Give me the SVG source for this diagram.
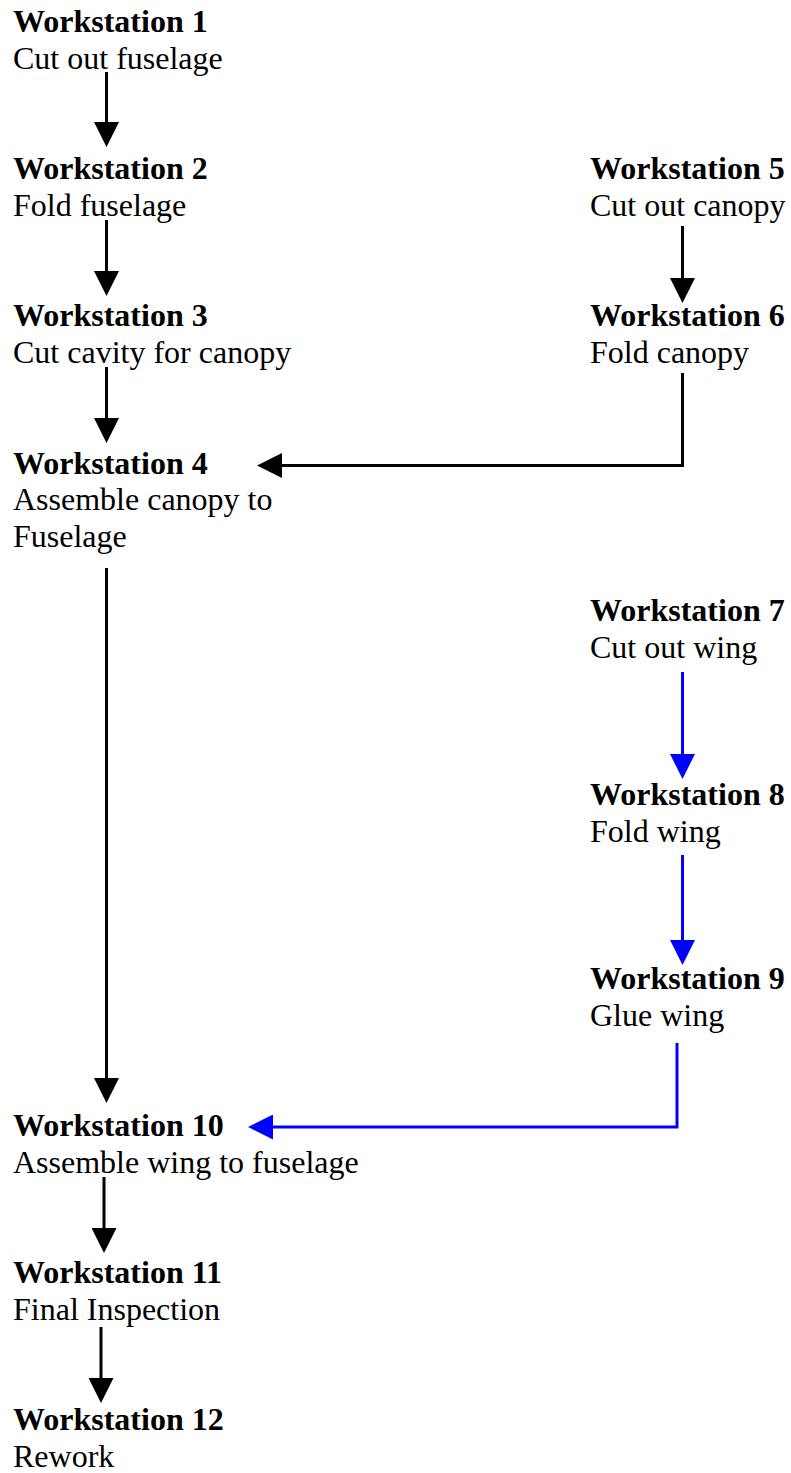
<svg xmlns="http://www.w3.org/2000/svg" width="791" height="1473" viewBox="0 0 791 1473">
<style>
text{font-family:"Liberation Serif","Times New Roman",serif;font-size:32px;fill:#000}
.t{font-weight:bold}
.k{fill:none;stroke:#000;stroke-width:3;stroke-linejoin:miter}
.b{fill:none;stroke:#0000FF;stroke-width:3;stroke-linejoin:miter}
</style>
<defs>
<marker id="ak" viewBox="0 0 25 25" refX="0" refY="12.5" markerWidth="25" markerHeight="25" markerUnits="userSpaceOnUse" orient="auto"><path d="M0,0 L25,12.5 L0,25 Z" fill="#000"/></marker>
<marker id="ab" viewBox="0 0 25 25" refX="0" refY="12.5" markerWidth="25" markerHeight="25" markerUnits="userSpaceOnUse" orient="auto"><path d="M0,0 L25,12.5 L0,25 Z" fill="#0000FF"/></marker>
</defs>
<rect width="791" height="1473" fill="#fff"/>
<g id="ws1"><text x="13" y="32" class="t">Workstation 1</text><text x="13" y="68.8">Cut out fuselage</text></g>
<g id="ws2"><text x="13" y="179.2" class="t">Workstation 2</text><text x="13" y="216">Fold fuselage</text></g>
<g id="ws3"><text x="13" y="326.4" class="t">Workstation 3</text><text x="13" y="363.2">Cut cavity for canopy</text></g>
<g id="ws4"><text x="13" y="473.6" class="t">Workstation 4</text><text x="13" y="510.4">Assemble canopy to</text><text x="13" y="547.2">Fuselage</text></g>
<g id="ws5"><text x="590" y="179.2" class="t">Workstation 5</text><text x="590" y="216">Cut out canopy</text></g>
<g id="ws6"><text x="590" y="326.4" class="t">Workstation 6</text><text x="590" y="363.2">Fold canopy</text></g>
<g id="ws7"><text x="590" y="620.8" class="t">Workstation 7</text><text x="590" y="657.6">Cut out wing</text></g>
<g id="ws8"><text x="590" y="804.8" class="t">Workstation 8</text><text x="590" y="841.6">Fold wing</text></g>
<g id="ws9"><text x="590" y="988.8" class="t">Workstation 9</text><text x="590" y="1025.6">Glue wing</text></g>
<g id="ws10"><text x="13" y="1136" class="t">Workstation 10</text><text x="13" y="1172.8">Assemble wing to fuselage</text></g>
<g id="ws11"><text x="13" y="1283.2" class="t">Workstation 11</text><text x="13" y="1320">Final Inspection</text></g>
<g id="ws12"><text x="13" y="1430.4" class="t">Workstation 12</text><text x="13" y="1467.2">Rework</text></g>
<g id="connectors">
<path class="k" d="M106.5,72 V122" marker-end="url(#ak)"/>
<path class="k" d="M106.5,220 V271" marker-end="url(#ak)"/>
<path class="k" d="M106.5,367 V418" marker-end="url(#ak)"/>
<path class="k" d="M106.5,568 V1078" marker-end="url(#ak)"/>
<path class="k" d="M104,1177 V1228" marker-end="url(#ak)"/>
<path class="k" d="M101,1327 V1378" marker-end="url(#ak)"/>
<path class="k" d="M682.5,226 V278" marker-end="url(#ak)"/>
<path class="k" d="M682.5,373 V465.5 H282" marker-end="url(#ak)"/>
<path class="b" d="M682.5,672 V754" marker-end="url(#ab)"/>
<path class="b" d="M682.5,855 V940" marker-end="url(#ab)"/>
<path class="b" d="M677,1043 V1127 H273" marker-end="url(#ab)"/>
</g>
</svg>
